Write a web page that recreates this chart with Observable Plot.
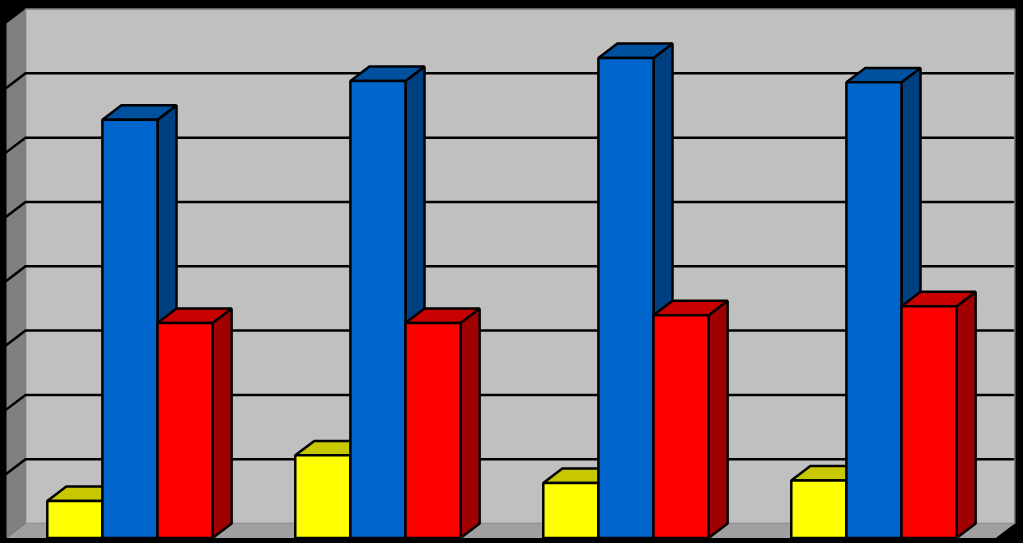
<!DOCTYPE html>
<html>
<head>
<meta charset="utf-8">
<script src="https://cdn.jsdelivr.net/npm/d3@7"></script>
<script src="https://cdn.jsdelivr.net/npm/@observablehq/plot@0.6"></script>
<style>
html,body{margin:0;padding:0;background:#000;overflow:hidden}
svg{display:block}
</style>
</head>
<body>
<div id="chart"></div>
<script>
const groups = [0, 1, 2, 3];
const yellowValues = [0.575, 1.285, 0.855, 0.895];
const blueValues = [6.505, 7.105, 7.465, 7.085];
const redValues = [3.345, 3.345, 3.465, 3.605];
const gridValues = [1, 2, 3, 4, 5, 6, 7];
const seriesList = [
  {values: yellowValues, slot: 0, front: "#ffff00", top: "#c8c800", side: "#a0a000"},
  {values: blueValues, slot: 1, front: "#0066cc", top: "#0050a0", side: "#004080"},
  {values: redValues, slot: 2, front: "#ff0000", top: "#c80000", side: "#a00000"}
];
// Axis-box extents in data units: one x unit is a bar's width, one y unit a grid step.
const xMax = 18, wallEnd = 17.95, yMax = 8, depthX = 0.345, depthY = 0.225, groupStep = 4.5, groupInset = 0.74;
const pts = a => a.map(([x, y]) => ({x, y}));
const poly = (a, fill, stroke = "#000", strokeWidth = 2.5) =>
  Plot.line(pts(a), {x: "x", y: "y", curve: "linear-closed", fill, stroke, strokeWidth, strokeLinejoin: "miter"});

const walls = [
  poly([[depthX, depthY], [wallEnd + depthX, depthY], [wallEnd + depthX, yMax + depthY], [depthX, yMax + depthY]], "#c0c0c0", "#808080", 1.5),
  poly([[0, 0], [depthX, depthY], [depthX, yMax + depthY], [0, yMax]], "#808080", "none"),
  poly([[0, 0], [wallEnd, 0], [wallEnd + depthX, depthY], [depthX, depthY]], "#a0a0a0", "none")
];
const grid = gridValues.map(v =>
  Plot.line(pts([[0, v], [depthX, v + depthY], [wallEnd + depthX - 0.03, v + depthY]]), {x: "x", y: "y", stroke: "#000", strokeWidth: 2.5})
);
const bars = groups.flatMap(g => seriesList.flatMap(s => {
  const x0 = groupInset + g * groupStep + s.slot, x1 = x0 + 1, v = s.values[g];
  return [
    poly([[x1, 0], [x1 + depthX, depthY], [x1 + depthX, v + depthY], [x1, v]], s.side),
    poly([[x0, v], [x1, v], [x1 + depthX, v + depthY], [x0 + depthX, v + depthY]], s.top),
    poly([[x0, 0], [x1, 0], [x1, v], [x0, v]], s.front)
  ];
}));

const chart = Plot.plot({
  width: 1023,
  height: 543,
  margin: 0,
  style: {background: "#000"},
  x: {domain: [0, xMax], range: [6, 998], axis: null},
  y: {domain: [0, yMax], range: [537.5, 23], axis: null},
  marks: [...walls, ...grid, ...bars]
});
document.getElementById("chart").append(chart);
</script>
</body>
</html>
